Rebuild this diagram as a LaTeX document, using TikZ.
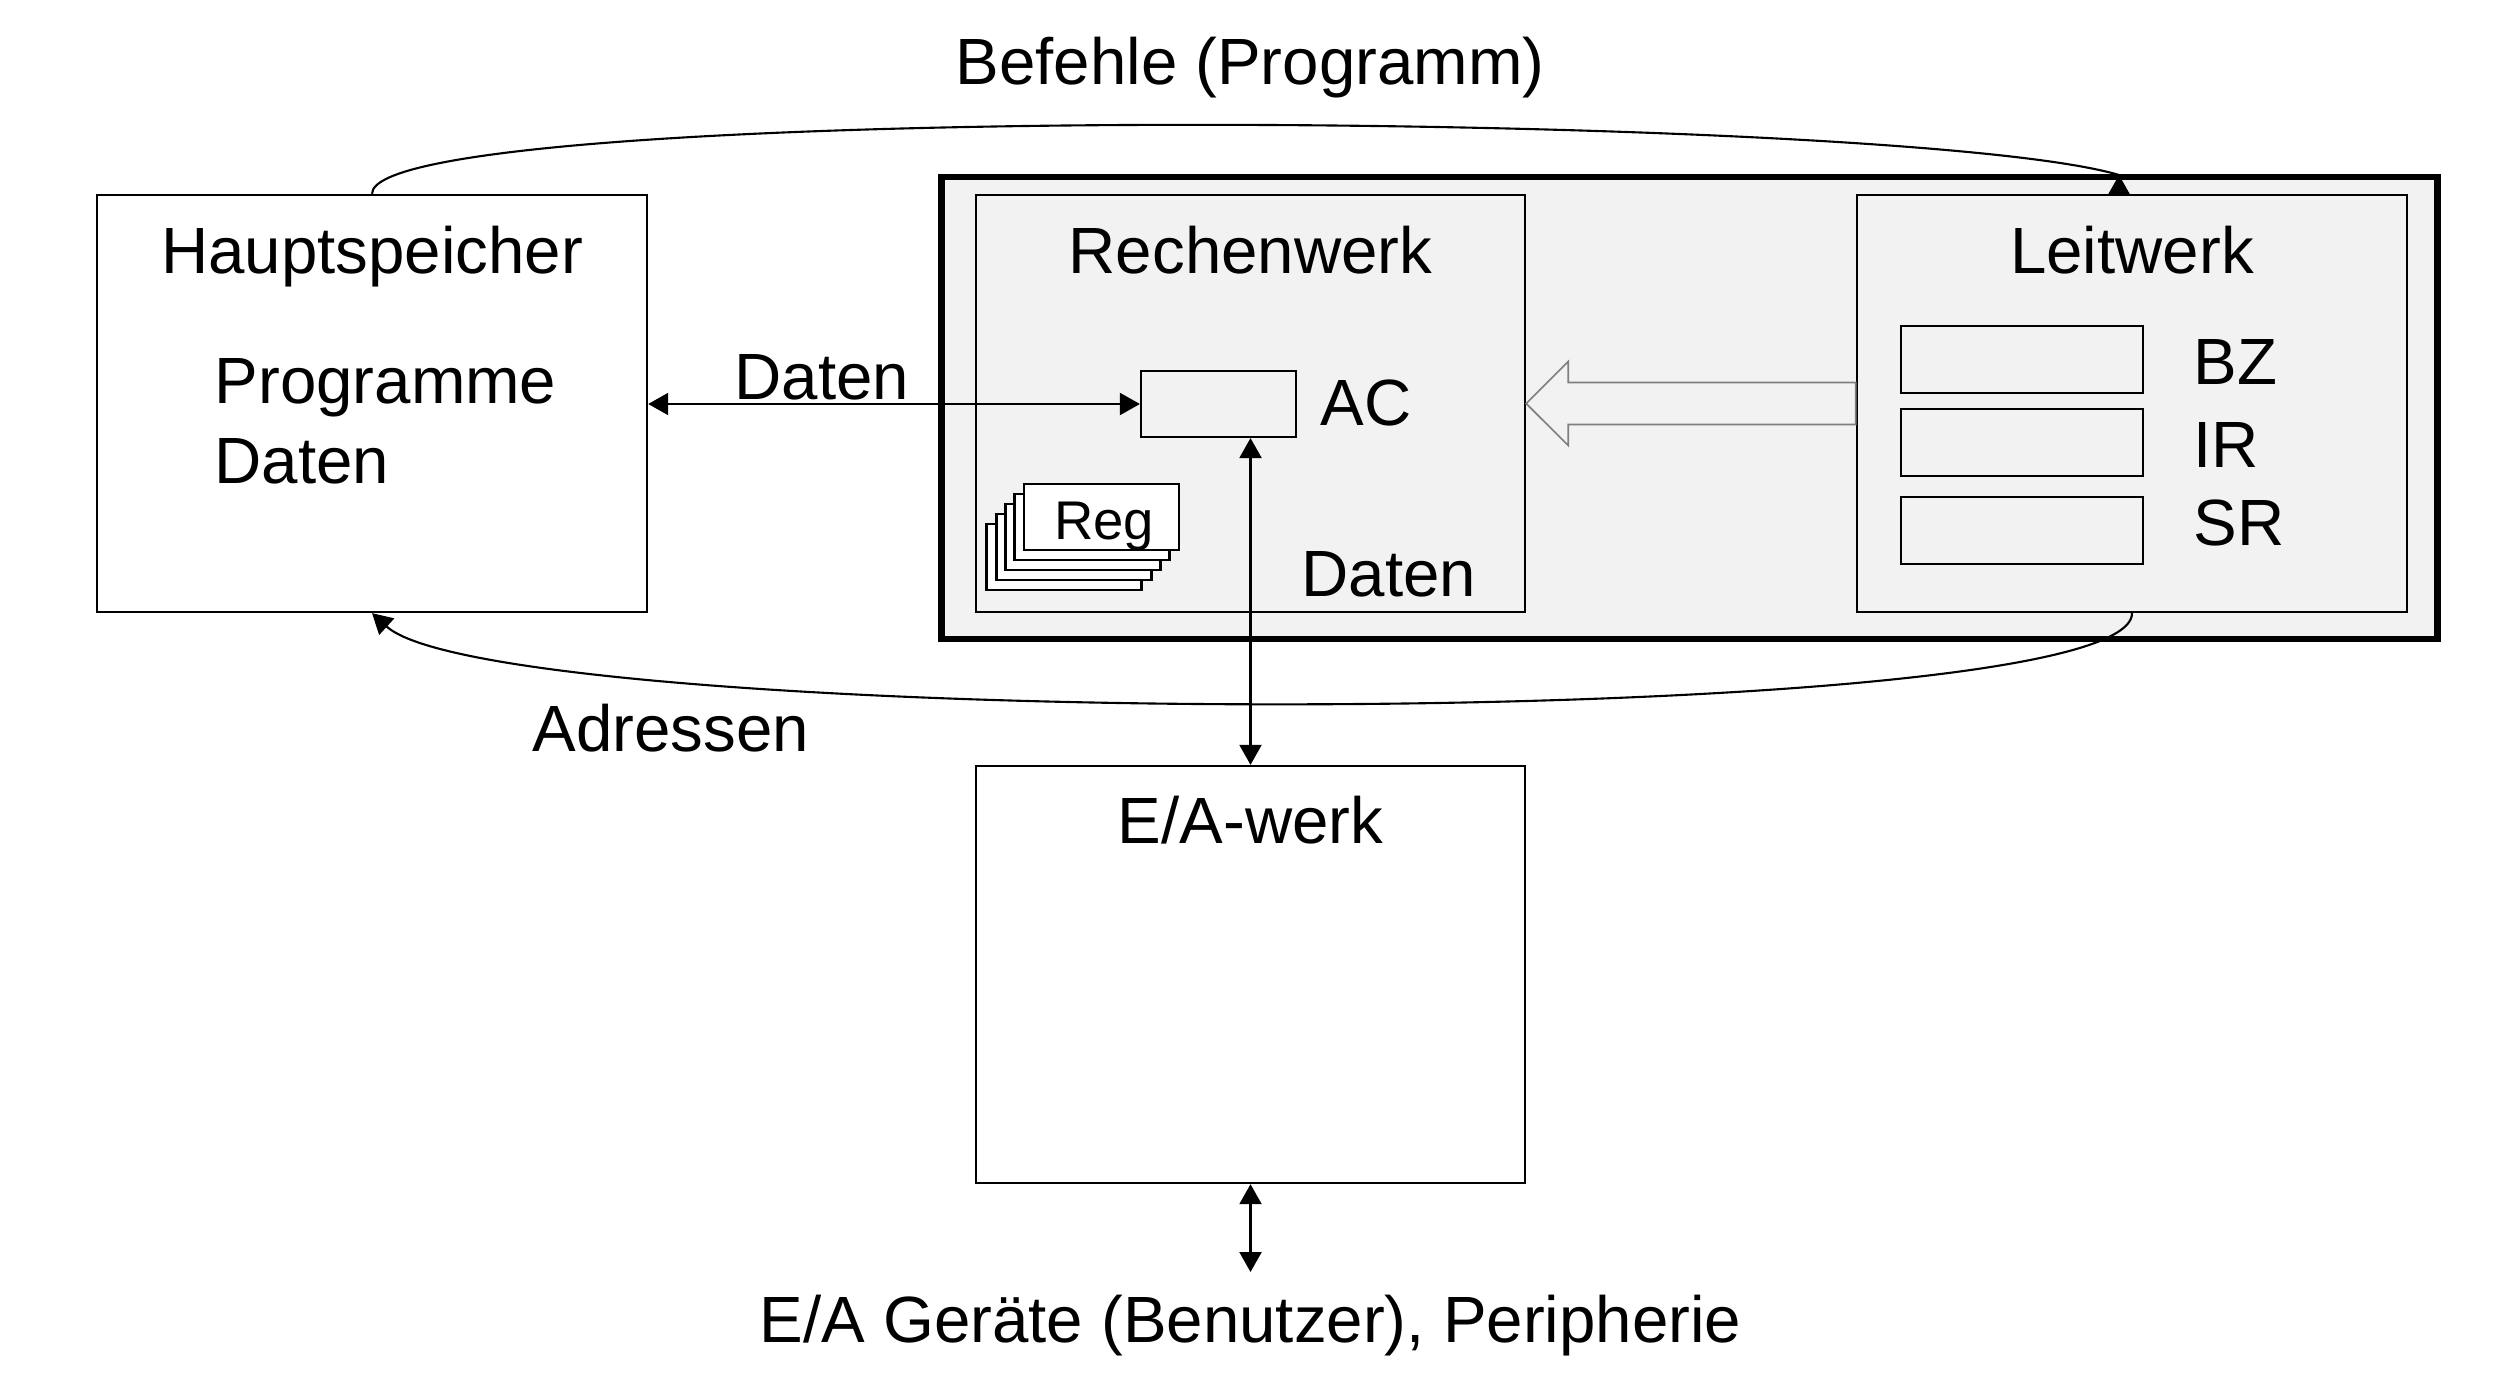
\documentclass[tikz,border=0pt]{standalone}
\usepackage{fontspec}
\setmainfont{Liberation Sans}
\usetikzlibrary{arrows.meta}
\definecolor{hellgrau}{HTML}{F2F2F2}
\definecolor{pfeilgrau}{HTML}{7F7F7F}
\begin{document}
\begin{tikzpicture}[x=0.01cm,y=-0.01cm,
  >={Triangle[length=0.2cm,width=0.22cm]},
  font=\fontsize{18.6}{22.8}\selectfont,
  kasten/.style={draw,line width=0.6pt,inner sep=0pt,minimum width=5.5cm,minimum height=4.17cm},
  register/.style={draw,line width=0.6pt,fill=hellgrau,inner sep=0pt,minimum width=2.42cm,minimum height=0.67cm},
  regbox/.style={draw,line width=0.8pt,fill=white},
  txt/.style={inner sep=0pt},
  pfeil/.style={line width=0.6pt},
  hohlpfeil/.style={draw=pfeilgrau,line width=0.5pt,fill=hellgrau}]
\useasboundingbox (0,0) rectangle (2504,1388);
% Hauptspeicher
\node[kasten] (hs) at (372,403.5) {};
\node[txt,anchor=base] (hstitel) at (372,273) {Hauptspeicher};
\node[txt,anchor=base west] (prog) at (214,403) {Programme};
\node[txt,anchor=base west] (hsdaten) at (214,483) {Daten};
% Zentraleinheit
\node[kasten,line width=1.8pt,fill=hellgrau,minimum width=14.95cm,minimum height=4.62cm] (cpu) at (1689.5,408) {};
\node[kasten,fill=hellgrau,minimum width=5.49cm] (rw) at (1250.5,403.5) {};
\node[txt,anchor=base] (rwtitel) at (1250.5,273) {Rechenwerk};
\node[kasten,fill=hellgrau] (lw) at (2132,403.5) {};
\node[txt,anchor=base] (lwtitel) at (2132,273) {Leitwerk};
% Akkumulator und Registerstapel
\node[register,minimum width=1.55cm,minimum height=0.66cm] (ac) at (1218.5,404) {};
\node[txt,anchor=base west] (actext) at (1320,425) {AC};
\foreach \k in {4,3,2,1}
  \draw[regbox] (1024-9.3*\k,484+10*\k) rectangle ++(155,66);
\node[regbox,inner sep=0pt,minimum width=1.55cm,minimum height=0.66cm] (reg) at (1101.5,517) {};
\node[txt,anchor=base,font=\fontsize{15.5}{18}\selectfont] (regtext) at (1104,539) {Reg};
\node[txt,anchor=base west] (rwdaten) at (1301,596) {Daten};
% Register im Leitwerk
\node[register] (bz) at (2022,359.5) {};
\node[register] (ir) at (2022,442.5) {};
\node[register] (sr) at (2022,530.5) {};
\node[txt,anchor=base west] (bztext) at (2193,384) {BZ};
\node[txt,anchor=base west] (irtext) at (2193,467) {IR};
\node[txt,anchor=base west] (srtext) at (2193,545) {SR};
\draw[hohlpfeil] (rw.east) -- ++(42,-42) -- ++(0,21) -- ([yshift=0.21cm]lw.west)
  -- ([yshift=-0.21cm]lw.west) -- ([xshift=0.42cm,yshift=-0.21cm]rw.east) -- ++(0,21) -- cycle;
% E/A
\node[kasten,minimum width=5.49cm] (ea) at (1250.5,974.5) {};
\node[txt,anchor=base] (eatitel) at (1250.5,843) {E/A-werk};
\coordinate (periph) at (1250.5,1272);
\node[txt,anchor=base] (geraete) at (1250.5,1342) {E/A Geräte (Benutzer), Peripherie};
% Verbindungen
\draw[pfeil,<->] (hs.east |- ac.west) -- (ac.west);
\node[txt,anchor=base west] (datenlabel) at (734,399) {Daten};
\draw[pfeil,<->] (ac.south -| ea.north) -- (ea.north);
\draw[pfeil,<->] (ea.south) -- (periph);
\coordinate (befehlende) at (2119,175);
\draw[pfeil] (hs.north) .. controls (372,100) and (1900,110) .. (befehlende);
\draw[pfeil,->] (lw.north -| befehlende) -- (befehlende);
\node[txt,anchor=base] (befehle) at (1250,85) {Befehle (Programm)};
\draw[pfeil,->] (lw.south) .. controls (2132,735) and (500,730) .. (hs.south);
\node[txt,anchor=base west] (adressen) at (532,751) {Adressen};
\end{tikzpicture}
\end{document}
